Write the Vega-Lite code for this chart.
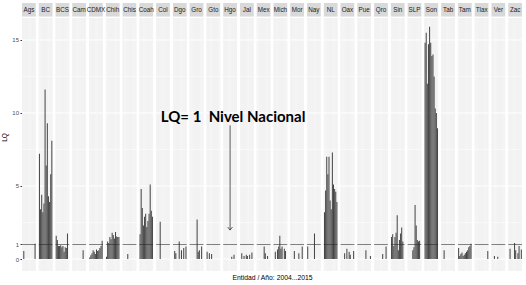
{
"$schema": "https://vega.github.io/schema/vega-lite/v6.json",
"width": 500, "height": 268,
"autosize": {"type": "none"},
"padding": {"left": 22, "top": 3, "right": 4, "bottom": 14},
"background": "white",
"config": {"view": {"stroke": null}, "font": "Liberation Sans"},
"datasets": {
"st": [{"s":"Ags"},{"s":"BC"},{"s":"BCS"},{"s":"Cam"},{"s":"CDMX"},{"s":"Chih"},{"s":"Chis"},{"s":"Coah"},{"s":"Col"},{"s":"Dgo"},{"s":"Gro"},{"s":"Gto"},{"s":"Hgo"},{"s":"Jal"},{"s":"Mex"},{"s":"Mich"},{"s":"Mor"},{"s":"Nay"},{"s":"NL"},{"s":"Oax"},{"s":"Pue"},{"s":"Qro"},{"s":"Sin"},{"s":"SLP"},{"s":"Son"},{"s":"Tab"},{"s":"Tam"},{"s":"Tlax"},{"s":"Ver"},{"s":"Zac"}],
"gmaj": [{"g":0},{"g":5},{"g":10},{"g":15}],
"gmin": [{"g":2.5},{"g":7.5},{"g":12.5}],
"d": [
{"s":"Ags","a":"2004","v":0},{"s":"Ags","a":"2005","v":0.55},{"s":"Ags","a":"2006","v":0},{"s":"Ags","a":"2007","v":0},{"s":"Ags","a":"2008","v":0},{"s":"Ags","a":"2009","v":0},{"s":"Ags","a":"2010","v":0},{"s":"Ags","a":"2011","v":0},{"s":"Ags","a":"2012","v":0},{"s":"Ags","a":"2013","v":0},{"s":"Ags","a":"2014","v":0},{"s":"Ags","a":"2015","v":1.05},
{"s":"BC","a":"2004","v":7.2},{"s":"BC","a":"2005","v":3.4},{"s":"BC","a":"2006","v":4.4},{"s":"BC","a":"2007","v":3.2},{"s":"BC","a":"2008","v":3.8},{"s":"BC","a":"2009","v":11.6},{"s":"BC","a":"2010","v":6.4},{"s":"BC","a":"2011","v":9.3},{"s":"BC","a":"2012","v":4.3},{"s":"BC","a":"2013","v":3.9},{"s":"BC","a":"2014","v":5.8},{"s":"BC","a":"2015","v":8.1},
{"s":"BCS","a":"2004","v":1.6},{"s":"BCS","a":"2005","v":1.3},{"s":"BCS","a":"2006","v":0.9},{"s":"BCS","a":"2007","v":0.9},{"s":"BCS","a":"2008","v":0.95},{"s":"BCS","a":"2009","v":0.8},{"s":"BCS","a":"2010","v":0.9},{"s":"BCS","a":"2011","v":0.5},{"s":"BCS","a":"2012","v":0.8},{"s":"BCS","a":"2013","v":0.75},{"s":"BCS","a":"2014","v":1.75},{"s":"BCS","a":"2015","v":0},
{"s":"Cam","a":"2004","v":0},{"s":"Cam","a":"2005","v":0},{"s":"Cam","a":"2006","v":0},{"s":"Cam","a":"2007","v":0},{"s":"Cam","a":"2008","v":0},{"s":"Cam","a":"2009","v":0},{"s":"Cam","a":"2010","v":0},{"s":"Cam","a":"2011","v":0},{"s":"Cam","a":"2012","v":0},{"s":"Cam","a":"2013","v":0.6},{"s":"Cam","a":"2014","v":0},{"s":"Cam","a":"2015","v":0},
{"s":"CDMX","a":"2004","v":0.1},{"s":"CDMX","a":"2005","v":0.25},{"s":"CDMX","a":"2006","v":0.4},{"s":"CDMX","a":"2007","v":0.6},{"s":"CDMX","a":"2008","v":0.5},{"s":"CDMX","a":"2009","v":0.35},{"s":"CDMX","a":"2010","v":0.65},{"s":"CDMX","a":"2011","v":0.55},{"s":"CDMX","a":"2012","v":0.6},{"s":"CDMX","a":"2013","v":0.75},{"s":"CDMX","a":"2014","v":0.9},{"s":"CDMX","a":"2015","v":1.25},
{"s":"Chih","a":"2004","v":0.15},{"s":"Chih","a":"2005","v":1.2},{"s":"Chih","a":"2006","v":1.1},{"s":"Chih","a":"2007","v":1.5},{"s":"Chih","a":"2008","v":1.35},{"s":"Chih","a":"2009","v":1.8},{"s":"Chih","a":"2010","v":1.65},{"s":"Chih","a":"2011","v":1.4},{"s":"Chih","a":"2012","v":1.85},{"s":"Chih","a":"2013","v":1.55},{"s":"Chih","a":"2014","v":1.5},{"s":"Chih","a":"2015","v":1.5},
{"s":"Chis","a":"2004","v":0},{"s":"Chis","a":"2005","v":0},{"s":"Chis","a":"2006","v":0},{"s":"Chis","a":"2007","v":0},{"s":"Chis","a":"2008","v":0.35},{"s":"Chis","a":"2009","v":0},{"s":"Chis","a":"2010","v":0},{"s":"Chis","a":"2011","v":0},{"s":"Chis","a":"2012","v":0},{"s":"Chis","a":"2013","v":0},{"s":"Chis","a":"2014","v":0},{"s":"Chis","a":"2015","v":0},
{"s":"Coah","a":"2004","v":1.7},{"s":"Coah","a":"2005","v":4.8},{"s":"Coah","a":"2006","v":3.5},{"s":"Coah","a":"2007","v":2.3},{"s":"Coah","a":"2008","v":2.9},{"s":"Coah","a":"2009","v":3.1},{"s":"Coah","a":"2010","v":2.2},{"s":"Coah","a":"2011","v":2.6},{"s":"Coah","a":"2012","v":3.1},{"s":"Coah","a":"2013","v":5.1},{"s":"Coah","a":"2014","v":3.3},{"s":"Coah","a":"2015","v":2.9},
{"s":"Col","a":"2004","v":0},{"s":"Col","a":"2005","v":0},{"s":"Col","a":"2006","v":0},{"s":"Col","a":"2007","v":2.55},{"s":"Col","a":"2008","v":0},{"s":"Col","a":"2009","v":0},{"s":"Col","a":"2010","v":0},{"s":"Col","a":"2011","v":0},{"s":"Col","a":"2012","v":0},{"s":"Col","a":"2013","v":0},{"s":"Col","a":"2014","v":0},{"s":"Col","a":"2015","v":0},
{"s":"Dgo","a":"2004","v":0},{"s":"Dgo","a":"2005","v":0.55},{"s":"Dgo","a":"2006","v":0.4},{"s":"Dgo","a":"2007","v":0},{"s":"Dgo","a":"2008","v":0},{"s":"Dgo","a":"2009","v":1.2},{"s":"Dgo","a":"2010","v":0},{"s":"Dgo","a":"2011","v":0.6},{"s":"Dgo","a":"2012","v":0},{"s":"Dgo","a":"2013","v":0.75},{"s":"Dgo","a":"2014","v":0},{"s":"Dgo","a":"2015","v":0.85},
{"s":"Gro","a":"2004","v":0},{"s":"Gro","a":"2005","v":0},{"s":"Gro","a":"2006","v":0},{"s":"Gro","a":"2007","v":0},{"s":"Gro","a":"2008","v":0},{"s":"Gro","a":"2009","v":0},{"s":"Gro","a":"2010","v":2.7},{"s":"Gro","a":"2011","v":0.5},{"s":"Gro","a":"2012","v":0.6},{"s":"Gro","a":"2013","v":0},{"s":"Gro","a":"2014","v":0.85},{"s":"Gro","a":"2015","v":0},
{"s":"Gto","a":"2004","v":0.5},{"s":"Gto","a":"2005","v":0},{"s":"Gto","a":"2006","v":0.4},{"s":"Gto","a":"2007","v":0},{"s":"Gto","a":"2008","v":0.35},{"s":"Gto","a":"2009","v":0},{"s":"Gto","a":"2010","v":0},{"s":"Gto","a":"2011","v":0},{"s":"Gto","a":"2012","v":0},{"s":"Gto","a":"2013","v":0},{"s":"Gto","a":"2014","v":0},{"s":"Gto","a":"2015","v":0},
{"s":"Hgo","a":"2004","v":0},{"s":"Hgo","a":"2005","v":0},{"s":"Hgo","a":"2006","v":0},{"s":"Hgo","a":"2007","v":0},{"s":"Hgo","a":"2008","v":0},{"s":"Hgo","a":"2009","v":0},{"s":"Hgo","a":"2010","v":0},{"s":"Hgo","a":"2011","v":0.15},{"s":"Hgo","a":"2012","v":0},{"s":"Hgo","a":"2013","v":0.3},{"s":"Hgo","a":"2014","v":0},{"s":"Hgo","a":"2015","v":0},
{"s":"Jal","a":"2004","v":0},{"s":"Jal","a":"2005","v":0.4},{"s":"Jal","a":"2006","v":0},{"s":"Jal","a":"2007","v":0.2},{"s":"Jal","a":"2008","v":0},{"s":"Jal","a":"2009","v":0.3},{"s":"Jal","a":"2010","v":0.2},{"s":"Jal","a":"2011","v":0},{"s":"Jal","a":"2012","v":0.3},{"s":"Jal","a":"2013","v":0},{"s":"Jal","a":"2014","v":0.45},{"s":"Jal","a":"2015","v":0},
{"s":"Mex","a":"2004","v":0},{"s":"Mex","a":"2005","v":0},{"s":"Mex","a":"2006","v":0},{"s":"Mex","a":"2007","v":0},{"s":"Mex","a":"2008","v":0},{"s":"Mex","a":"2009","v":0},{"s":"Mex","a":"2010","v":0.85},{"s":"Mex","a":"2011","v":0.4},{"s":"Mex","a":"2012","v":0},{"s":"Mex","a":"2013","v":0.2},{"s":"Mex","a":"2014","v":0},{"s":"Mex","a":"2015","v":0},
{"s":"Mich","a":"2004","v":0},{"s":"Mich","a":"2005","v":0.5},{"s":"Mich","a":"2006","v":0},{"s":"Mich","a":"2007","v":0.65},{"s":"Mich","a":"2008","v":0.85},{"s":"Mich","a":"2009","v":1.6},{"s":"Mich","a":"2010","v":0.7},{"s":"Mich","a":"2011","v":0.85},{"s":"Mich","a":"2012","v":0},{"s":"Mich","a":"2013","v":0.7},{"s":"Mich","a":"2014","v":0.55},{"s":"Mich","a":"2015","v":0},
{"s":"Mor","a":"2004","v":0},{"s":"Mor","a":"2005","v":0},{"s":"Mor","a":"2006","v":0},{"s":"Mor","a":"2007","v":0.55},{"s":"Mor","a":"2008","v":0},{"s":"Mor","a":"2009","v":0},{"s":"Mor","a":"2010","v":0},{"s":"Mor","a":"2011","v":0.4},{"s":"Mor","a":"2012","v":0},{"s":"Mor","a":"2013","v":0},{"s":"Mor","a":"2014","v":0.85},{"s":"Mor","a":"2015","v":0},
{"s":"Nay","a":"2004","v":0.85},{"s":"Nay","a":"2005","v":0},{"s":"Nay","a":"2006","v":0},{"s":"Nay","a":"2007","v":0},{"s":"Nay","a":"2008","v":0},{"s":"Nay","a":"2009","v":0},{"s":"Nay","a":"2010","v":1.75},{"s":"Nay","a":"2011","v":0},{"s":"Nay","a":"2012","v":0},{"s":"Nay","a":"2013","v":0},{"s":"Nay","a":"2014","v":0},{"s":"Nay","a":"2015","v":0},
{"s":"NL","a":"2004","v":3.2},{"s":"NL","a":"2005","v":4.7},{"s":"NL","a":"2006","v":7.0},{"s":"NL","a":"2007","v":5.8},{"s":"NL","a":"2008","v":7.0},{"s":"NL","a":"2009","v":4.0},{"s":"NL","a":"2010","v":3.4},{"s":"NL","a":"2011","v":7.3},{"s":"NL","a":"2012","v":5.1},{"s":"NL","a":"2013","v":4.8},{"s":"NL","a":"2014","v":4.6},{"s":"NL","a":"2015","v":3.9},
{"s":"Oax","a":"2004","v":0},{"s":"Oax","a":"2005","v":0},{"s":"Oax","a":"2006","v":0},{"s":"Oax","a":"2007","v":0.4},{"s":"Oax","a":"2008","v":0},{"s":"Oax","a":"2009","v":0.7},{"s":"Oax","a":"2010","v":0},{"s":"Oax","a":"2011","v":0.5},{"s":"Oax","a":"2012","v":0.3},{"s":"Oax","a":"2013","v":0},{"s":"Oax","a":"2014","v":0},{"s":"Oax","a":"2015","v":0.55},
{"s":"Pue","a":"2004","v":0},{"s":"Pue","a":"2005","v":0},{"s":"Pue","a":"2006","v":0},{"s":"Pue","a":"2007","v":0},{"s":"Pue","a":"2008","v":0},{"s":"Pue","a":"2009","v":0},{"s":"Pue","a":"2010","v":0},{"s":"Pue","a":"2011","v":0.6},{"s":"Pue","a":"2012","v":0},{"s":"Pue","a":"2013","v":0},{"s":"Pue","a":"2014","v":0},{"s":"Pue","a":"2015","v":0.2},
{"s":"Qro","a":"2004","v":0},{"s":"Qro","a":"2005","v":0},{"s":"Qro","a":"2006","v":0},{"s":"Qro","a":"2007","v":0},{"s":"Qro","a":"2008","v":0},{"s":"Qro","a":"2009","v":0},{"s":"Qro","a":"2010","v":0},{"s":"Qro","a":"2011","v":0.35},{"s":"Qro","a":"2012","v":0},{"s":"Qro","a":"2013","v":0},{"s":"Qro","a":"2014","v":0.85},{"s":"Qro","a":"2015","v":0},
{"s":"Sin","a":"2004","v":1.5},{"s":"Sin","a":"2005","v":1.7},{"s":"Sin","a":"2006","v":0.9},{"s":"Sin","a":"2007","v":1.5},{"s":"Sin","a":"2008","v":1.8},{"s":"Sin","a":"2009","v":3.0},{"s":"Sin","a":"2010","v":0.6},{"s":"Sin","a":"2011","v":1.3},{"s":"Sin","a":"2012","v":1.75},{"s":"Sin","a":"2013","v":2.15},{"s":"Sin","a":"2014","v":1.2},{"s":"Sin","a":"2015","v":0},
{"s":"SLP","a":"2004","v":0},{"s":"SLP","a":"2005","v":0},{"s":"SLP","a":"2006","v":0},{"s":"SLP","a":"2007","v":0},{"s":"SLP","a":"2008","v":0.6},{"s":"SLP","a":"2009","v":0.8},{"s":"SLP","a":"2010","v":3.7},{"s":"SLP","a":"2011","v":2.3},{"s":"SLP","a":"2012","v":1.3},{"s":"SLP","a":"2013","v":1.2},{"s":"SLP","a":"2014","v":1.25},{"s":"SLP","a":"2015","v":0},
{"s":"Son","a":"2004","v":14.8},{"s":"Son","a":"2005","v":15.5},{"s":"Son","a":"2006","v":12.0},{"s":"Son","a":"2007","v":14.7},{"s":"Son","a":"2008","v":15.9},{"s":"Son","a":"2009","v":14.8},{"s":"Son","a":"2010","v":13.9},{"s":"Son","a":"2011","v":14.0},{"s":"Son","a":"2012","v":12.5},{"s":"Son","a":"2013","v":10.3},{"s":"Son","a":"2014","v":10.0},{"s":"Son","a":"2015","v":8.95},
{"s":"Tab","a":"2004","v":0},{"s":"Tab","a":"2005","v":0},{"s":"Tab","a":"2006","v":0.6},{"s":"Tab","a":"2007","v":0},{"s":"Tab","a":"2008","v":0},{"s":"Tab","a":"2009","v":0},{"s":"Tab","a":"2010","v":0},{"s":"Tab","a":"2011","v":0},{"s":"Tab","a":"2012","v":0},{"s":"Tab","a":"2013","v":0},{"s":"Tab","a":"2014","v":0},{"s":"Tab","a":"2015","v":0},
{"s":"Tam","a":"2004","v":0.75},{"s":"Tam","a":"2005","v":0.2},{"s":"Tam","a":"2006","v":0.35},{"s":"Tam","a":"2007","v":0.45},{"s":"Tam","a":"2008","v":0.2},{"s":"Tam","a":"2009","v":0.3},{"s":"Tam","a":"2010","v":0.4},{"s":"Tam","a":"2011","v":0.5},{"s":"Tam","a":"2012","v":0.6},{"s":"Tam","a":"2013","v":0.8},{"s":"Tam","a":"2014","v":0.9},{"s":"Tam","a":"2015","v":1.05},
{"s":"Tlax","a":"2004","v":0},{"s":"Tlax","a":"2005","v":0},{"s":"Tlax","a":"2006","v":0},{"s":"Tlax","a":"2007","v":0},{"s":"Tlax","a":"2008","v":0},{"s":"Tlax","a":"2009","v":0},{"s":"Tlax","a":"2010","v":0},{"s":"Tlax","a":"2011","v":0},{"s":"Tlax","a":"2012","v":0},{"s":"Tlax","a":"2013","v":0},{"s":"Tlax","a":"2014","v":0},{"s":"Tlax","a":"2015","v":0.55},
{"s":"Ver","a":"2004","v":0},{"s":"Ver","a":"2005","v":0},{"s":"Ver","a":"2006","v":0.2},{"s":"Ver","a":"2007","v":0},{"s":"Ver","a":"2008","v":0},{"s":"Ver","a":"2009","v":0.15},{"s":"Ver","a":"2010","v":0},{"s":"Ver","a":"2011","v":0},{"s":"Ver","a":"2012","v":0},{"s":"Ver","a":"2013","v":0},{"s":"Ver","a":"2014","v":0},{"s":"Ver","a":"2015","v":0},
{"s":"Zac","a":"2004","v":0},{"s":"Zac","a":"2005","v":0.7},{"s":"Zac","a":"2006","v":0},{"s":"Zac","a":"2007","v":0},{"s":"Zac","a":"2008","v":0},{"s":"Zac","a":"2009","v":1.1},{"s":"Zac","a":"2010","v":0.6},{"s":"Zac","a":"2011","v":0},{"s":"Zac","a":"2012","v":0.4},{"s":"Zac","a":"2013","v":0.9},{"s":"Zac","a":"2014","v":0},{"s":"Zac","a":"2015","v":0.65}
]
},
"layer": [
{
"data": {"name": "st"},
"mark": {"type": "bar", "color": "#EBEBEB"},
"encoding": {
"x": {"field": "s", "type": "nominal",
"scale": {"domain": ["Ags","BC","BCS","Cam","CDMX","Chih","Chis","Coah","Col","Dgo","Gro","Gto","Hgo","Jal","Mex","Mich","Mor","Nay","NL","Oax","Pue","Qro","Sin","SLP","Son","Tab","Tam","Tlax","Ver","Zac"], "paddingInner": 0.18, "paddingOuter": 0},
"axis": {"labels": false, "ticks": false, "domain": false, "grid": false, "titleFontSize": 6.8, "titleFontWeight": "normal", "titleColor": "#000000", "titlePadding": 3},
"title": "Entidad / Año: 2004...2015"},
"y": {"datum": -0.82, "type": "quantitative",
"scale": {"domain": [-0.82, 17.53], "nice": false, "zero": false},
"axis": {"values": [0, 1, 5, 10, 15], "labelFontSize": 6, "labelColor": "#4D4D4D", "tickColor": "#333333", "tickSize": 2, "labelPadding": 1.5, "domain": false, "grid": false, "labelOverlap": false, "titleFontSize": 6.5, "titleFontWeight": "normal", "titleColor": "#000000", "titlePadding": 4},
"title": "LQ"},
"y2": {"datum": 16.5}
}
},
{
"data": {"name": "gmaj"},
"mark": {"type": "rule", "color": "#FFFFFF", "strokeWidth": 1},
"encoding": {"y": {"field": "g", "type": "quantitative", "title": "LQ"}}
},
{
"data": {"name": "gmin"},
"mark": {"type": "rule", "color": "#FFFFFF", "strokeWidth": 0.5},
"encoding": {"y": {"field": "g", "type": "quantitative", "title": "LQ"}}
},
{
"data": {"name": "d"},
"mark": {"type": "rule", "color": "#FFFFFF", "strokeWidth": 0.5},
"encoding": {
"x": {"field": "s", "type": "nominal", "title": "Entidad / Año: 2004...2015"},
"xOffset": {"field": "a", "type": "ordinal", "scale": {"paddingInner": 0.1, "paddingOuter": 0.15}},
"y": {"datum": -0.82},
"y2": {"datum": 16.5}
}
},
{
"data": {"name": "d"},
"mark": {"type": "bar", "color": "#454545"},
"encoding": {
"x": {"field": "s", "type": "nominal", "title": "Entidad / Año: 2004...2015"},
"xOffset": {"field": "a", "type": "ordinal"},
"y": {"field": "v", "type": "quantitative", "stack": null, "title": "LQ"}
}
},
{
"data": {"name": "st"},
"mark": {"type": "tick", "color": "#262626", "thickness": 0.8, "size": 13.75},
"encoding": {
"x": {"field": "s", "type": "nominal", "title": "Entidad / Año: 2004...2015"},
"y": {"datum": 1}
}
},
{
"data": {"name": "st"},
"mark": {"type": "bar", "color": "#D9D9D9"},
"encoding": {
"x": {"field": "s", "type": "nominal", "title": "Entidad / Año: 2004...2015"},
"y": {"datum": 16.6},
"y2": {"datum": 17.53}
}
},
{
"data": {"name": "st"},
"mark": {"type": "text", "fontSize": 6.3, "color": "#1A1A1A", "baseline": "middle"},
"encoding": {
"x": {"field": "s", "type": "nominal", "title": "Entidad / Año: 2004...2015"},
"y": {"datum": 17.065},
"text": {"field": "s"}
}
},
{
"data": {"values": [{}]},
"mark": {"type": "text", "text": "LQ= 1\u00a0\u00a0Nivel Nacional", "font": "Lato", "fontWeight": "bold", "fontSize": 15, "color": "#000000", "baseline": "alphabetic", "dx": 3},
"encoding": {
"x": {"datum": "Hgo"},
"y": {"datum": 9.38}
}
},
{
"data": {"values": [{}]},
"mark": {"type": "rule", "color": "#333333", "strokeWidth": 0.8},
"encoding": {
"x": {"datum": "Hgo"},
"y": {"datum": 9.15},
"y2": {"datum": 2.0}
}
},
{
"data": {"values": [{}]},
"mark": {"type": "point", "shape": "M-1,-1.3L0,0L1,-1.3", "filled": false, "stroke": "#333333", "strokeWidth": 0.8, "size": 22, "opacity": 1},
"encoding": {
"x": {"datum": "Hgo"},
"y": {"datum": 1.98}
}
}
]
}
